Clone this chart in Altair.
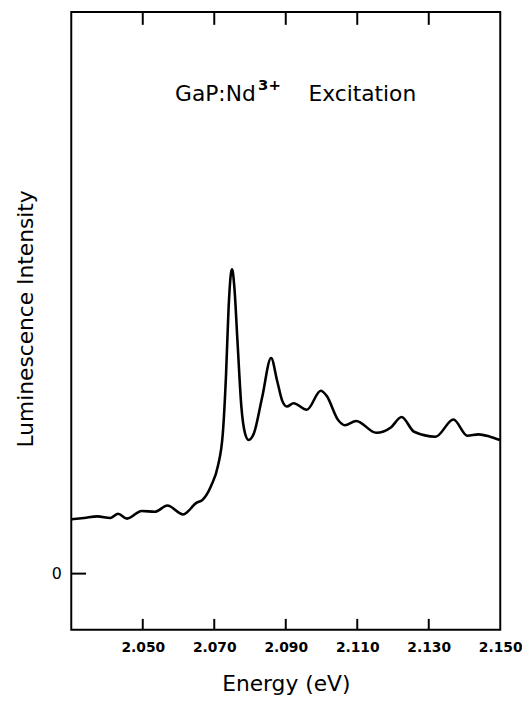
import altair as alt
import pandas as pd

# Curve (energy in eV, intensity in arbitrary units)
energy = [2.0300, 2.0336, 2.0373, 2.0410, 2.0431, 2.0456, 2.0497, 2.0534, 2.0569, 2.0613,
          2.0650, 2.0668, 2.0691, 2.0710, 2.0724, 2.0733, 2.0740, 2.0747, 2.0750, 2.0756,
          2.0765, 2.0776, 2.0786, 2.0796, 2.0811, 2.0834, 2.0859, 2.0876, 2.0890, 2.0903,
          2.0922, 2.0959, 2.0998, 2.1014, 2.1047, 2.1065, 2.1097, 2.1153, 2.1194, 2.1224,
          2.1259, 2.1319, 2.1369, 2.1408, 2.1439, 2.1471, 2.1499]
intensity = [0.967, 0.991, 1.019, 0.991, 1.067, 0.979, 1.114, 1.102, 1.212, 1.054,
             1.259, 1.317, 1.56, 1.91, 2.50, 3.55, 4.72, 5.36, 5.42, 5.12,
             4.13, 2.96, 2.50, 2.38, 2.50, 3.14, 3.84, 3.43, 3.08, 2.976,
             3.034, 2.918, 3.256, 3.17, 2.73, 2.643, 2.718, 2.508, 2.603, 2.789,
             2.526, 2.438, 2.743, 2.456, 2.480, 2.438, 2.380]

x_ticks = [2.050, 2.070, 2.090, 2.110, 2.130]
x_labels = [2.050, 2.070, 2.090, 2.110, 2.130, 2.150]
y_ticks = [0]

W, H = 434, 625
FONT = "DejaVu Sans"

curve = pd.DataFrame({"E": energy, "I": intensity})
ticks = pd.DataFrame({"t": x_ticks})
zero = pd.DataFrame({"z": y_ticks})

xscale = alt.Scale(domain=[2.030, 2.150], nice=False, zero=False)
yscale = alt.Scale(domain=[-1, 10], nice=False, zero=False)

line = alt.Chart(curve).mark_line(color="black", strokeWidth=2.6, interpolate="monotone").encode(
    x=alt.X("E:Q", scale=xscale,
            axis=alt.Axis(values=x_labels, format=".3f", ticks=False, domain=False, grid=False,
                          labelFont=FONT, labelFontSize=14, labelFontWeight="bold",
                          labelColor="black", labelPadding=11, labelFlush=False,
                          title="Energy (eV)", titleFont=FONT, titleFontSize=22,
                          titleFontWeight="normal", titleColor="black",
                          titleY=61, titleBaseline="alphabetic")),
    y=alt.Y("I:Q", scale=yscale,
            axis=alt.Axis(values=y_ticks, format="d", ticks=False, domain=False, grid=False,
                          labelFont=FONT, labelFontSize=16, labelFontWeight="normal",
                          labelColor="black", labelPadding=10,
                          title="Luminescence Intensity", titleFont=FONT, titleFontSize=22,
                          titleFontWeight="normal", titleColor="black",
                          titleX=-39, titleY=310, titleAngle=-90,
                          titleAlign="center", titleBaseline="alphabetic")),
)

bottom_ticks = alt.Chart(ticks).mark_rule(color="black", strokeWidth=2).encode(
    x=alt.X("t:Q", scale=xscale), y=alt.value(H), y2=alt.value(H - 11))
top_ticks = alt.Chart(ticks).mark_rule(color="black", strokeWidth=2).encode(
    x=alt.X("t:Q", scale=xscale), y=alt.value(0), y2=alt.value(13))
zero_tick = alt.Chart(zero).mark_rule(color="black", strokeWidth=2).encode(
    y=alt.Y("z:Q", scale=yscale), x=alt.value(0), x2=alt.value(15))

one = pd.DataFrame({"a": [0]})
t1 = alt.Chart(one).mark_text(text="GaP:Nd", font=FONT, fontSize=22, align="left",
                              baseline="alphabetic", color="black").encode(
    x=alt.value(105), y=alt.value(90))
t2 = alt.Chart(one).mark_text(text="3+", font=FONT, fontSize=15, fontWeight="bold", align="left",
                              baseline="alphabetic", color="black").encode(
    x=alt.value(189), y=alt.value(79))
t3 = alt.Chart(one).mark_text(text="Excitation", font=FONT, fontSize=22, align="left",
                              baseline="alphabetic", color="black").encode(
    x=alt.value(240), y=alt.value(90))

chart = alt.layer(line, bottom_ticks, top_ticks, zero_tick, t1, t2, t3).properties(
    width=W, height=H,
    autosize=alt.AutoSizeParams(type="none"),
    padding={"left": 64, "top": 0, "right": 22, "bottom": 68},
).configure_view(stroke="black", strokeWidth=2)

chart.save("out.html", embed_options={"renderer": "svg", "actions": False})
